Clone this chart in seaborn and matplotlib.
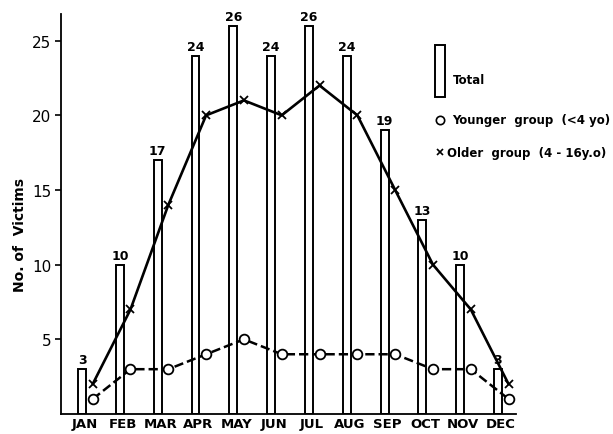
import numpy as np
import matplotlib
matplotlib.use("Agg")
import matplotlib.pyplot as plt
import seaborn as sns
from matplotlib.patches import Rectangle
from matplotlib.lines import Line2D

months = ["JAN", "FEB", "MAR", "APR", "MAY", "JUN",
          "JUL", "AUG", "SEP", "OCT", "NOV", "DEC"]
total = [3, 10, 17, 24, 26, 24, 26, 24, 19, 13, 10, 3]
younger = [1, 3, 3, 4, 5, 4, 4, 4, 4, 3, 3, 1]
older = [2, 7, 14, 20, 21, 20, 22, 20, 15, 10, 7, 2]
y_ticks = [5, 10, 15, 20, 25]

sns.set_style("white")
plt.rcParams["font.family"] = ["DejaVu Sans"]
plt.rcParams["text.color"] = "black"
plt.rcParams["axes.labelcolor"] = "black"
plt.rcParams["xtick.color"] = "black"
plt.rcParams["ytick.color"] = "black"

fig = plt.figure(figsize=(6.13, 4.35), dpi=100)
ax = fig.add_axes([0.100, 0.046, 0.742, 0.920])

pos = np.arange(len(months))

# sloupci: skupno stevilo zrtev
sns.barplot(x=pos, y=total, native_scale=True, width=0.21,
            color="white", edgecolor="black", linewidth=1.4, ax=ax)
ax.bar_label(ax.containers[0], labels=[str(v) for v in total],
             padding=2, fontsize=9, fontweight="bold")

# crte: mlajsa in starejsa skupina (malo zamaknjeni desno)
sns.lineplot(x=pos + 0.28, y=older, color="black", linewidth=1.9,
             marker="x", markersize=6, markeredgewidth=1.3,
             markeredgecolor="black", ax=ax)
sns.lineplot(x=pos + 0.28, y=younger, color="black", linewidth=1.8,
             linestyle="--", dashes=(3.5, 2.2), marker="o", markersize=7,
             markerfacecolor="white", markeredgecolor="black",
             markeredgewidth=1.3, ax=ax)

ax.set_xlim(-0.55, 11.48)
ax.set_ylim(0, 26.8)
ax.set_xticks(pos + 0.08)
ax.set_xticklabels(months, fontsize=9.5, fontweight="bold")
ax.set_yticks(y_ticks)
ax.set_yticklabels([str(v) for v in y_ticks], fontsize=11)
ax.tick_params(axis="x", length=0, pad=2)
ax.tick_params(axis="y", direction="out", length=4, width=1.2, left=True, pad=3)
ax.set_ylabel("No. of  Victims", fontsize=10, fontweight="bold")
ax.yaxis.set_label_coords(-0.075, 0.45)

sns.despine(ax=ax)
ax.spines["left"].set_linewidth(1.3)
ax.spines["bottom"].set_linewidth(1.3)
ax.spines["left"].set_color("black")
ax.spines["bottom"].set_color("black")
ax.set_xlabel("")

# legenda
fig.add_artist(Rectangle((0.709, 0.775), 0.0163, 0.1195, transform=fig.transFigure,
                         facecolor="white", edgecolor="black", linewidth=1.4))
fig.text(0.739, 0.816, "Total", fontsize=8.5, fontweight="bold", va="center")
fig.add_artist(Line2D([0.717], [0.722], transform=fig.transFigure, marker="o",
                      markersize=6, markerfacecolor="white",
                      markeredgecolor="black", markeredgewidth=1.2))
fig.text(0.737, 0.722, "Younger  group  (<4 yo)", fontsize=8.5,
         fontweight="bold", va="center")
fig.add_artist(Line2D([0.717], [0.648], transform=fig.transFigure, marker="x",
                      markersize=5, markeredgecolor="black", markeredgewidth=1.2))
fig.text(0.730, 0.648, "Older  group  (4 - 16y.o)", fontsize=8.5,
         fontweight="bold", va="center")

fig.savefig("out.png", dpi=100)
